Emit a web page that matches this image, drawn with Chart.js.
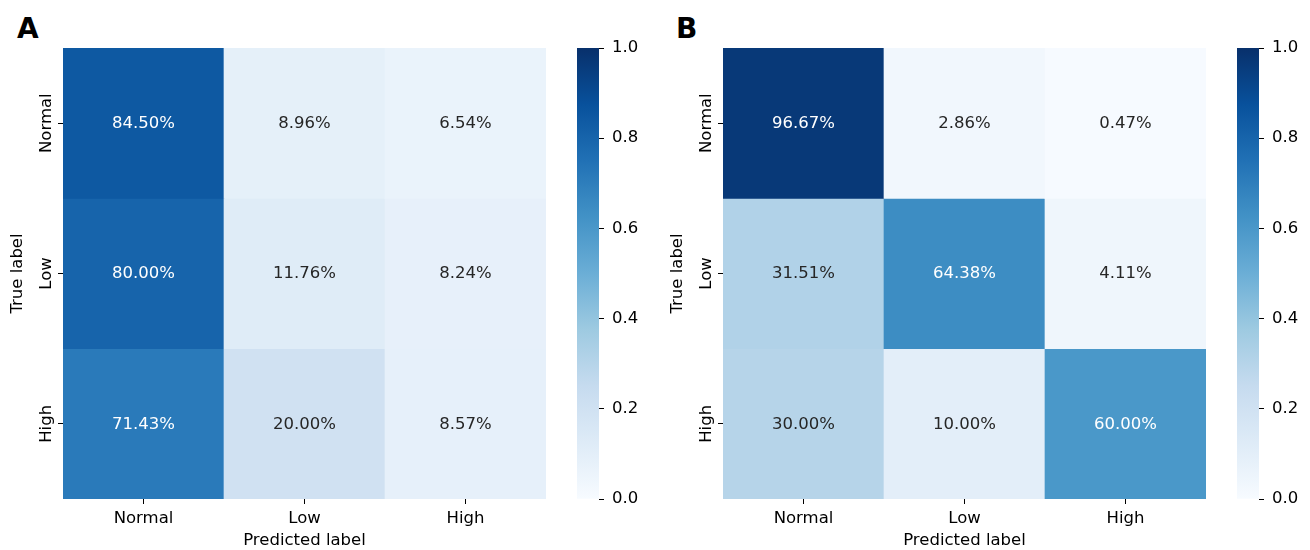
<!DOCTYPE html>
<html lang="en">

<head>
    <meta charset="UTF-8">
    <title>Confusion matrices</title>
    <script src="https://cdn.jsdelivr.net/npm/chart.js"></script>
    <style>
        body {
            margin: 0;
            background: #ffffff;
        }
        #wrap {
            position: relative;
            width: 1310px;
            height: 550px;
            font-family: 'DejaVu Sans', sans-serif;
        }
        #wrap canvas {
            position: absolute;
            top: 0;
        }
        .panel-tag {
            position: absolute;
            top: 15px;
            font: bold 28px/28px 'DejaVu Sans', sans-serif;
            color: #000;
        }
    </style>
</head>

<body>
    <div id="wrap">
        <div class="panel-tag" style="left:17px">A</div>
        <div class="panel-tag" style="left:676px">B</div>
        <canvas id="heatA" width="560" height="550" style="left:0px"></canvas>
        <canvas id="barA" width="100" height="550" style="left:560px"></canvas>
        <canvas id="heatB" width="560" height="550" style="left:660px"></canvas>
        <canvas id="barB" width="100" height="550" style="left:1220px"></canvas>
    </div>

    <script>
        // Data
        const predLabels = ['Normal', 'Low', 'High'];
        const trueLabels = ['Normal', 'Low', 'High'];
        const valuesA = [
            [0.8450, 0.0896, 0.0654],
            [0.8000, 0.1176, 0.0824],
            [0.7143, 0.2000, 0.0857]
        ];
        const valuesB = [
            [0.9667, 0.0286, 0.0047],
            [0.3151, 0.6438, 0.0411],
            [0.3000, 0.1000, 0.6000]
        ];
        const cbMin = 0;
        const cbMax = 1;
        const cbStep = 0.2;

        // matplotlib "Blues" colormap
        const bluesStops = ['#f7fbff', '#deebf7', '#c6dbef', '#9ecae1', '#6baed6',
            '#4292c6', '#2171b5', '#08519c', '#08306b'];

        const FONT = { family: 'DejaVu Sans', size: 16.5 };
        const TICK_COLOR = '#000000';

        function hexToRgb(h) {
            return [1, 3, 5].map(i => parseInt(h.substr(i, 2), 16));
        }

        function blues(v) {
            const t = Math.min(1, Math.max(0, (v - cbMin) / (cbMax - cbMin)));
            const pos = t * (bluesStops.length - 1);
            const i = Math.min(Math.floor(pos), bluesStops.length - 2);
            const f = pos - i;
            const a = hexToRgb(bluesStops[i]);
            const b = hexToRgb(bluesStops[i + 1]);
            const c = a.map((x, k) => Math.round(x + (b[k] - x) * f));
            return `rgb(${c[0]}, ${c[1]}, ${c[2]})`;
        }

        // same rule seaborn uses for annotation colour
        function textColorFor(v) {
            const rgb = blues(v).match(/\d+/g).map(Number).map(x => {
                x /= 255;
                return x <= 0.03928 ? x / 12.92 : Math.pow((x + 0.055) / 1.055, 2.4);
            });
            const lum = 0.2126 * rgb[0] + 0.7152 * rgb[1] + 0.0722 * rgb[2];
            return lum > 0.408 ? '#262626' : '#ffffff';
        }

        // cell text + rotated y tick labels
        const heatLabels = {
            id: 'heatLabels',
            afterDatasetsDraw(chart) {
                const ctx = chart.ctx;
                const values = chart.options.plugins.heatLabels.values;
                ctx.save();
                ctx.font = `${FONT.size}px ${FONT.family}`;
                ctx.textAlign = 'center';
                ctx.textBaseline = 'middle';
                chart.data.datasets.forEach((ds, r) => {
                    chart.getDatasetMeta(r).data.forEach((bar, c) => {
                        const v = values[r][c];
                        ctx.fillStyle = textColorFor(v);
                        ctx.fillText((v * 100).toFixed(2) + '%', bar.x, (bar.y + bar.base) / 2 + 0.5);
                    });
                });
                // y tick labels, rotated
                const y = chart.scales.y;
                ctx.fillStyle = TICK_COLOR;
                ctx.textBaseline = 'alphabetic';
                trueLabels.forEach((name, i) => {
                    ctx.save();
                    ctx.translate(y.right - 12, y.getPixelForValue(i + 0.5));
                    ctx.rotate(-Math.PI / 2);
                    ctx.fillText(name, 0, 0);
                    ctx.restore();
                });
                ctx.restore();
            }
        };

        function makeHeatmap(id, values) {
            return new Chart(document.getElementById(id), {
                type: 'bar',
                data: {
                    labels: predLabels,
                    datasets: trueLabels.map((name, r) => ({
                        label: name,
                        data: predLabels.map(() => [r, r + 1]),
                        backgroundColor: values[r].map(blues),
                        borderWidth: 0,
                        grouped: false,
                        categoryPercentage: 1,
                        barPercentage: 1
                    }))
                },
                options: {
                    responsive: false,
                    animation: false,
                    layout: { padding: { top: 48, right: 14, left: 0, bottom: 0 } },
                    plugins: {
                        legend: { display: false },
                        tooltip: { enabled: false },
                        heatLabels: { values: values }
                    },
                    scales: {
                        x: {
                            grid: { offset: false, drawOnChartArea: false, tickLength: 5, color: TICK_COLOR },
                            border: { display: false },
                            ticks: { font: FONT, color: TICK_COLOR, padding: 5 },
                            title: { display: true, text: 'Predicted label', font: FONT, color: TICK_COLOR, padding: { top: 0, bottom: -1 } },
                            afterFit: s => { s.height = 51; }
                        },
                        y: {
                            type: 'linear',
                            min: 0,
                            max: trueLabels.length,
                            reverse: true,
                            afterBuildTicks: s => { s.ticks = trueLabels.map((_, i) => ({ value: i + 0.5 })); },
                            grid: { drawOnChartArea: false, tickLength: 5, color: TICK_COLOR },
                            border: { display: false },
                            ticks: { display: false },
                            title: { display: true, text: 'True label', font: FONT, color: TICK_COLOR, padding: { top: 8, bottom: 0 } },
                            afterFit: s => { s.width = 63; }
                        }
                    }
                },
                plugins: [heatLabels]
            });
        }

        function makeColorbar(id) {
            return new Chart(document.getElementById(id), {
                type: 'bar',
                data: {
                    labels: [''],
                    datasets: [{
                        data: [[cbMin, cbMax]],
                        borderWidth: 0,
                        categoryPercentage: 1,
                        barPercentage: 1,
                        backgroundColor: ctx => {
                            const y = ctx.chart.scales.y;
                            if (!y || !ctx.chart.chartArea) return bluesStops[4];
                            const y0 = y.getPixelForValue(cbMin);
                            const y1 = y.getPixelForValue(cbMax);
                            if (!isFinite(y0) || !isFinite(y1)) return bluesStops[4];
                            const g = ctx.chart.ctx.createLinearGradient(0, y0, 0, y1);
                            bluesStops.forEach((c, i) => g.addColorStop(i / (bluesStops.length - 1), c));
                            return g;
                        }
                    }]
                },
                options: {
                    responsive: false,
                    animation: false,
                    layout: { padding: { top: 48, left: 17, right: 0, bottom: 51 } },
                    plugins: { legend: { display: false }, tooltip: { enabled: false } },
                    scales: {
                        x: { display: false },
                        y: {
                            position: 'right',
                            min: cbMin,
                            max: cbMax,
                            ticks: { stepSize: cbStep, font: FONT, color: TICK_COLOR, padding: 8, callback: v => v.toFixed(1) },
                            grid: { drawOnChartArea: false, tickLength: 5, color: TICK_COLOR },
                            border: { display: false },
                            afterFit: s => { s.width = 61; }
                        }
                    }
                }
            });
        }

        makeHeatmap('heatA', valuesA);
        makeColorbar('barA');
        makeHeatmap('heatB', valuesB);
        makeColorbar('barB');
    </script>
</body>

</html>
